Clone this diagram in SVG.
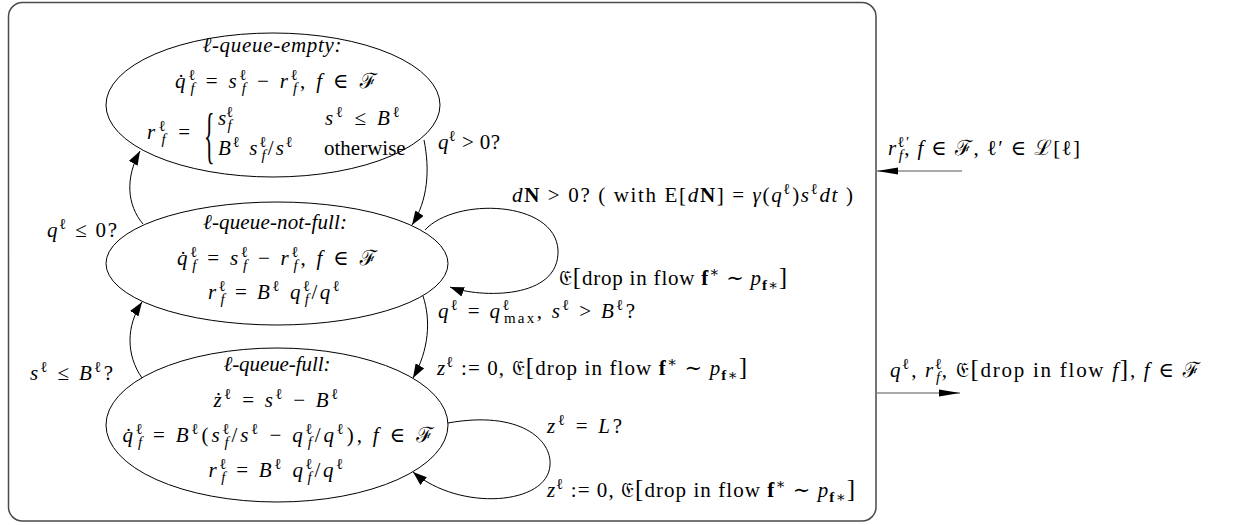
<svg xmlns="http://www.w3.org/2000/svg" width="1233" height="525" viewBox="0 0 1233 525">
<style>
.t{font-family:"Liberation Serif","DejaVu Serif","Noto Sans",serif;font-size:21px;fill:#000}
.i{font-style:italic}
.b{font-weight:bold}
.sp{font-size:15px;baseline-shift:8px}
.sb{font-size:15px;baseline-shift:-5px}
.br{font-size:25px}
.node{fill:#fff;stroke:#000;stroke-width:1}
.edge{fill:none;stroke:#000;stroke-width:1}
.io{fill:none;stroke:#555;stroke-width:1.2}
</style>
<defs>
<marker id="ah" markerUnits="userSpaceOnUse" markerWidth="15" markerHeight="10" refX="14" refY="5" orient="auto">
<path d="M0,0 L14,5 L0,10 z" fill="#000"/>
</marker>
<marker id="ah2" markerUnits="userSpaceOnUse" markerWidth="22" markerHeight="8" refX="21" refY="4" orient="auto">
<path d="M0,0.5 L21,4 L0,7.5 z" fill="#000"/>
</marker>
</defs>
<rect x="8.5" y="2.5" width="867.5" height="518.5" rx="14" ry="14" fill="none" stroke="#4a4a4a" stroke-width="1.5"/>

<g id="connectors">
<path class="edge" d="M424,140 C430,170 428,200 412,225" marker-end="url(#ah)"/>
<path class="edge" d="M143,224 C127,205 125,178 140,151" marker-end="url(#ah)"/>
<path class="edge" d="M423,296 C431,320 429,350 413,378" marker-end="url(#ah)"/>
<path class="edge" d="M142,378 C126,355 126,326 142,302" marker-end="url(#ah)"/>
<path class="edge" d="M425,230 C455,197 555,200 558,250 C560,300 480,298 450,287" marker-end="url(#ah)"/>
<path class="edge" d="M448,423 C520,410 552,440 550,465 C548,505 460,512 413,472" marker-end="url(#ah)"/>
<path class="io" d="M962,171 L877,171" marker-end="url(#ah2)"/>
<path class="io" d="M877,393 L960,393" marker-end="url(#ah2)"/>
<text class="t" x="438" y="149" textLength="62" lengthAdjust="spacing"><tspan class="i">q</tspan><tspan class="sp">ℓ</tspan> &gt; 0?</text>
<text class="t" x="47" y="237" textLength="70" lengthAdjust="spacing"><tspan class="i">q</tspan><tspan class="sp">ℓ</tspan> ≤ 0?</text>
<text class="t" x="30" y="380" textLength="83" lengthAdjust="spacing"><tspan class="i">s</tspan><tspan class="sp">ℓ</tspan> ≤ <tspan class="i">B</tspan><tspan class="sp">ℓ</tspan>?</text>
<text class="t" x="512" y="202" textLength="341" lengthAdjust="spacing"><tspan class="i">d</tspan><tspan class="b">N</tspan> &gt; 0? ( with E[<tspan class="i">d</tspan><tspan class="b">N</tspan>] = <tspan class="i">γ</tspan>(<tspan class="i">q</tspan><tspan class="sp">ℓ</tspan>)<tspan class="i">s</tspan><tspan class="sp">ℓ</tspan><tspan class="i">dt</tspan> )</text>
<text class="t" x="559" y="285" textLength="228" lengthAdjust="spacing">𝔈<tspan class="br">[</tspan>drop in flow <tspan class="b">f</tspan><tspan class="sp">∗</tspan> ∼ <tspan class="i">p</tspan><tspan class="sb b">f</tspan><tspan class="sb">∗</tspan><tspan class="br">]</tspan></text>
<text class="t" x="438" y="318" textLength="197" lengthAdjust="spacing"><tspan class="i">q</tspan><tspan class="sp">ℓ</tspan> = <tspan class="i">q</tspan><tspan class="sp">ℓ</tspan><tspan class="sb" dx="-8">max</tspan>, <tspan class="i">s</tspan><tspan class="sp">ℓ</tspan> &gt; <tspan class="i">B</tspan><tspan class="sp">ℓ</tspan>?</text>
<text class="t" x="437" y="375" textLength="310" lengthAdjust="spacing"><tspan class="i">z</tspan><tspan class="sp">ℓ</tspan> := 0, 𝔈<tspan class="br">[</tspan>drop in flow <tspan class="b">f</tspan><tspan class="sp">∗</tspan> ∼ <tspan class="i">p</tspan><tspan class="sb b">f</tspan><tspan class="sb">∗</tspan><tspan class="br">]</tspan></text>
<text class="t" x="547" y="433" textLength="75" lengthAdjust="spacing"><tspan class="i">z</tspan><tspan class="sp">ℓ</tspan> = <tspan class="i">L</tspan>?</text>
<text class="t" x="547" y="497" textLength="308" lengthAdjust="spacing"><tspan class="i">z</tspan><tspan class="sp">ℓ</tspan> := 0, 𝔈<tspan class="br">[</tspan>drop in flow <tspan class="b">f</tspan><tspan class="sp">∗</tspan> ∼ <tspan class="i">p</tspan><tspan class="sb b">f</tspan><tspan class="sb">∗</tspan><tspan class="br">]</tspan></text>
<text class="t" x="888" y="155" textLength="192" lengthAdjust="spacing"><tspan class="i">r</tspan><tspan class="sp">ℓ′</tspan><tspan class="sb i" dx="-12">f</tspan>,  <tspan class="i">f</tspan> ∈ ℱ, ℓ′ ∈ ℒ[ℓ]</text>
<text class="t" x="890" y="377" textLength="310" lengthAdjust="spacing"><tspan class="i">q</tspan><tspan class="sp">ℓ</tspan>,  <tspan class="i">r</tspan><tspan class="sp">ℓ</tspan><tspan class="sb i" dx="-8">f</tspan>,  𝔈<tspan class="br">[</tspan>drop in flow <tspan class="i">f</tspan><tspan class="br">]</tspan>,  <tspan class="i">f</tspan> ∈ ℱ</text>
</g>

<g id="queue-empty">
<ellipse class="node" cx="273" cy="105" rx="167" ry="72"/>
<text class="t i" x="272" y="52" text-anchor="middle" textLength="139" lengthAdjust="spacing">ℓ-queue-empty:</text>
<text class="t" x="276" y="88" text-anchor="middle" textLength="202" lengthAdjust="spacing"><tspan class="i">q̇</tspan><tspan class="sp">ℓ</tspan><tspan class="sb i" dx="-8">f</tspan> = <tspan class="i">s</tspan><tspan class="sp">ℓ</tspan><tspan class="sb i" dx="-8">f</tspan> − <tspan class="i">r</tspan><tspan class="sp">ℓ</tspan><tspan class="sb i" dx="-8">f</tspan>, <tspan class="i">f</tspan> ∈ ℱ</text>
<text class="t" x="147" y="139" textLength="43" lengthAdjust="spacing"><tspan class="i">r</tspan><tspan class="sp">ℓ</tspan><tspan class="sb i" dx="-8">f</tspan> =</text>
<text class="t" transform="translate(204,156) scale(1,2.8)" style="font-size:22px">{</text>
<text class="t" x="218" y="125"><tspan class="i">s</tspan><tspan class="sp">ℓ</tspan><tspan class="sb i" dx="-6">f</tspan></text>
<text class="t" x="325" y="125" textLength="75" lengthAdjust="spacing"><tspan class="i">s</tspan><tspan class="sp">ℓ</tspan> ≤ <tspan class="i">B</tspan><tspan class="sp">ℓ</tspan></text>
<text class="t" x="218" y="155" textLength="75" lengthAdjust="spacing"><tspan class="i">B</tspan><tspan class="sp">ℓ</tspan> <tspan class="i">s</tspan><tspan class="sp">ℓ</tspan><tspan class="sb i" dx="-7">f</tspan>/<tspan class="i">s</tspan><tspan class="sp">ℓ</tspan></text>
<text class="t" x="324" y="155">otherwise</text>
</g>

<g id="queue-not-full">
<ellipse class="node" cx="277" cy="263.5" rx="171" ry="61.5"/>
<text class="t i" x="275" y="229" text-anchor="middle" textLength="144" lengthAdjust="spacing">ℓ-queue-not-full:</text>
<text class="t" x="277" y="265" text-anchor="middle" textLength="200" lengthAdjust="spacing"><tspan class="i">q̇</tspan><tspan class="sp">ℓ</tspan><tspan class="sb i" dx="-8">f</tspan> = <tspan class="i">s</tspan><tspan class="sp">ℓ</tspan><tspan class="sb i" dx="-8">f</tspan> − <tspan class="i">r</tspan><tspan class="sp">ℓ</tspan><tspan class="sb i" dx="-8">f</tspan>, <tspan class="i">f</tspan> ∈ ℱ</text>
<text class="t" x="274" y="299" text-anchor="middle" textLength="132" lengthAdjust="spacing"><tspan class="i">r</tspan><tspan class="sp">ℓ</tspan><tspan class="sb i" dx="-8">f</tspan> = <tspan class="i">B</tspan><tspan class="sp">ℓ</tspan> <tspan class="i">q</tspan><tspan class="sp">ℓ</tspan><tspan class="sb i" dx="-8">f</tspan>/<tspan class="i">q</tspan><tspan class="sp">ℓ</tspan></text>
</g>

<g id="queue-full">
<ellipse class="node" cx="277" cy="425" rx="171" ry="77"/>
<text class="t i" x="277" y="371" text-anchor="middle" textLength="107" lengthAdjust="spacing">ℓ-queue-full:</text>
<text class="t" x="276" y="407" text-anchor="middle" textLength="125" lengthAdjust="spacing"><tspan class="i">ż</tspan><tspan class="sp">ℓ</tspan> = <tspan class="i">s</tspan><tspan class="sp">ℓ</tspan> − <tspan class="i">B</tspan><tspan class="sp">ℓ</tspan></text>
<text class="t" x="278" y="442" text-anchor="middle" textLength="311" lengthAdjust="spacing"><tspan class="i">q̇</tspan><tspan class="sp">ℓ</tspan><tspan class="sb i" dx="-8">f</tspan> = <tspan class="i">B</tspan><tspan class="sp">ℓ</tspan>(<tspan class="i">s</tspan><tspan class="sp">ℓ</tspan><tspan class="sb i" dx="-8">f</tspan>/<tspan class="i">s</tspan><tspan class="sp">ℓ</tspan> − <tspan class="i">q</tspan><tspan class="sp">ℓ</tspan><tspan class="sb i" dx="-8">f</tspan>/<tspan class="i">q</tspan><tspan class="sp">ℓ</tspan>), <tspan class="i">f</tspan> ∈ ℱ</text>
<text class="t" x="276" y="477" text-anchor="middle" textLength="135" lengthAdjust="spacing"><tspan class="i">r</tspan><tspan class="sp">ℓ</tspan><tspan class="sb i" dx="-8">f</tspan> = <tspan class="i">B</tspan><tspan class="sp">ℓ</tspan> <tspan class="i">q</tspan><tspan class="sp">ℓ</tspan><tspan class="sb i" dx="-8">f</tspan>/<tspan class="i">q</tspan><tspan class="sp">ℓ</tspan></text>
</g>
</svg>
